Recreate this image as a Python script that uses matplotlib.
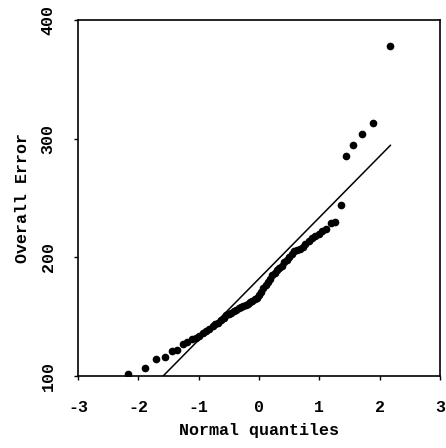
import matplotlib
matplotlib.use("Agg")
import matplotlib.pyplot as plt
import numpy as np

# theoretical normal quantiles (i/(n+1), n=67) and sorted overall errors
quantiles = [
    -2.178, -1.890, -1.705, -1.565, -1.450, -1.351, -1.265, -1.187, -1.115, -1.049,
    -0.987, -0.929, -0.874, -0.821, -0.770, -0.722, -0.674, -0.629, -0.584, -0.541,
    -0.499, -0.458, -0.417, -0.377, -0.338, -0.299, -0.261, -0.223, -0.185, -0.148,
    -0.111, -0.074, -0.037, 0.000, 0.037, 0.074, 0.111, 0.148, 0.185, 0.223,
    0.261, 0.299, 0.338, 0.377, 0.417, 0.458, 0.499, 0.541, 0.584, 0.629,
    0.674, 0.722, 0.770, 0.821, 0.874, 0.929, 0.987, 1.049, 1.115, 1.187,
    1.265, 1.351, 1.450, 1.565, 1.705, 1.890, 2.178,
]
overall_error = [
    102, 107, 114, 116, 121, 122, 127, 129, 131, 132,
    134, 136, 138, 140, 142, 144, 145, 147, 149, 151,
    152, 153, 155, 156, 157, 158, 159, 160, 161, 162,
    163, 165, 166, 168, 171, 174, 177, 179, 182, 185,
    187, 189, 191, 193, 196, 198, 200, 203, 205, 206,
    207, 209, 211, 214, 216, 218, 220, 222, 224, 229,
    230, 244, 285, 295, 304, 313, 378,
]
# reference line
line_intercept = 182.0
line_slope = 51.6

xticks = [-3, -2, -1, 0, 1, 2, 3]
yticks = [100, 200, 300, 400]

font = {"family": "Liberation Mono", "weight": "bold", "size": 12}

fig = plt.figure(figsize=(4.46, 4.48), dpi=100)
ax = fig.add_axes([78 / 446, 1 - 376 / 448, 362 / 446, 356 / 448])

q = np.array(quantiles)
lx = np.array([q.min(), q.max()])
ax.plot(lx, line_intercept + line_slope * lx, color="black", lw=1.1)
ax.plot(quantiles, overall_error, "o", color="black", ms=4.5, mec="black")

ax.set_xlim(-3, 3)
ax.set_ylim(100, 400)
ax.set_xticks(xticks)
ax.set_yticks(yticks)
ax.set_xticklabels([str(t) for t in xticks], fontdict=font)
ax.set_yticklabels([str(t) for t in yticks], fontdict=font, rotation=90, va="center")
ax.tick_params(axis="x", length=3, width=1, pad=14)
ax.tick_params(axis="y", length=3, width=1, pad=13)
for s in ax.spines.values():
    s.set_linewidth(1.2)

ax.set_xlabel("Normal quantiles", fontdict=font, labelpad=6)
ax.set_ylabel("Overall Error", fontdict=font, labelpad=8)

fig.savefig("out.png", dpi=100)
